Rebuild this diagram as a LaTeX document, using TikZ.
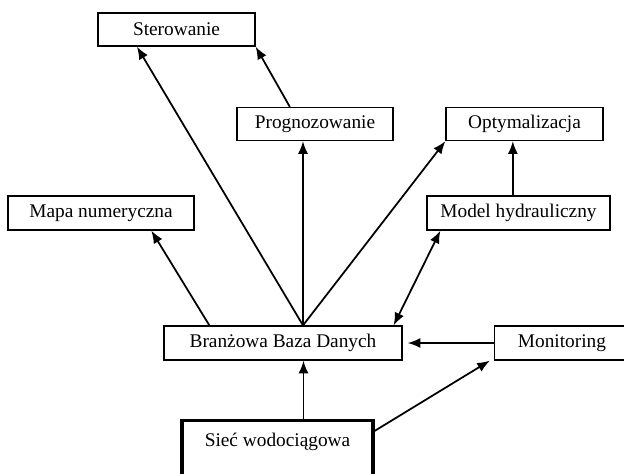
\documentclass[tikz,border=0pt]{standalone}
\usepackage{fontspec}
\setmainfont{Liberation Serif}
\usetikzlibrary{arrows.meta,positioning,calc}

\begin{document}
\begin{tikzpicture}[x=0.03cm, y=-0.03cm,
    box/.style={draw, rectangle, line width=1.1pt, minimum height=0.99cm, inner sep=2pt,
                font=\fontsize{16.5}{20}\selectfont},
    arr/.style={-{Latex[length=0.38cm,width=0.3cm]}, line width=1.5pt}]
    \useasboundingbox (0,0) rectangle (624,473);

    % Boxes
    \node[box, minimum width=4.71cm] (ster) at (176.5,29.5) {Sterowanie};
    \node[box, minimum width=4.68cm] (prog) at (315,124) {Prognozowanie};
    \node[box, minimum width=4.71cm] (opt) at (524.5,124) {Optymalizacja};
    \node[box, minimum width=5.58cm, minimum height=1.02cm] (mapa) at (101,213) {Mapa numeryczna};
    \node[box, minimum width=5.49cm, minimum height=1.02cm] (model) at (518.5,213) {Model hydrauliczny};
    \node[box, minimum width=7.14cm, minimum height=1.02cm] (baza) at (283,343) {Branżowa Baza Danych};
    \node[box, minimum width=4.05cm, minimum height=1.02cm] (monit) at (562,343) {Monitoring};
    \node[box, line width=2.6pt, minimum width=5.73cm, minimum height=1.71cm,
          text depth=0.55cm] (siec) at (277.5,449) {Sieć wodociągowa};

    % Connections from the database
    \coordinate (hub) at ([xshift=0.6cm]baza.north);
    \draw[arr] (hub) -- ($(ster.south west)!0.25!(ster.south east)$);
    \draw[arr] (hub) -- (hub |- prog.south);
    \draw[arr] (hub) -- (opt.south west);
    \draw[arr] ([xshift=1.38cm]baza.north west) -- ([xshift=4.32cm]mapa.south west);
    \draw[arr, {Latex[length=0.38cm,width=0.3cm]}-{Latex[length=0.38cm,width=0.3cm]}]
        ([xshift=-0.27cm]baza.north east) -- ([xshift=0.42cm]model.south west);

    % Upper level
    \draw[arr] ($(prog.north west)!0.34!(prog.north east)$) -- (ster.south east);
    \coordinate (mtop) at ([xshift=-0.17cm]model.north);
    \draw[arr] (mtop) -- (mtop |- opt.south);

    % Data sources
    \draw[arr, shorten >=0.15cm] (monit.west) -- (baza.east);
    \coordinate (stop) at ([xshift=0.78cm]siec.north);
    \draw[arr] (stop) -- (stop |- baza.south);
    \draw[arr] ([yshift=-0.36cm]siec.north east) -- ([xshift=-0.12cm]monit.south west);
\end{tikzpicture}
\end{document}
